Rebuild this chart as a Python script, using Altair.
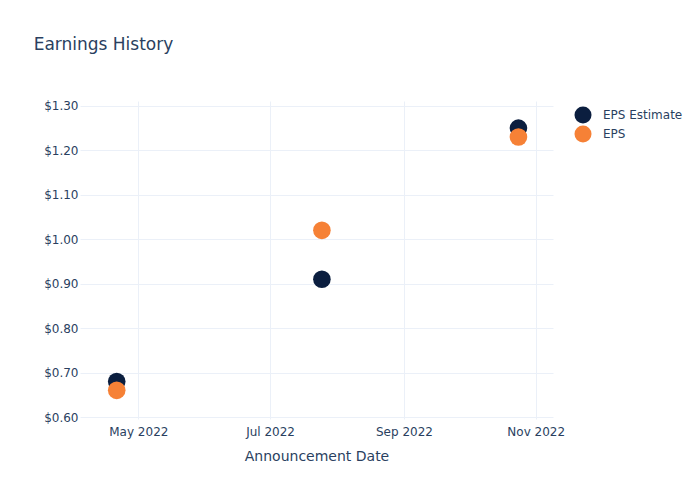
import altair as alt
import pandas as pd

dates = ["2022-04-21", "2022-07-25", "2022-10-24"]
eps_estimate = [0.68, 0.91, 1.25]
eps_actual = [0.66, 1.02, 1.23]
series_names = ["EPS Estimate", "EPS"]
series_colors = ["#0b1e3f", "#f68136"]
x_ticks = ["2022-05-01", "2022-07-01", "2022-09-01", "2022-11-01"]
y_ticks = [0.6, 0.7, 0.8, 0.9, 1.0, 1.1, 1.2, 1.3]

rows = []
for d, v in zip(dates, eps_estimate):
    rows.append({"Date": d, "Value": v, "Series": "EPS Estimate"})
for d, v in zip(dates, eps_actual):
    rows.append({"Date": d, "Value": v, "Series": "EPS"})
df = pd.DataFrame(rows)

font = "DejaVu Sans"
text_color = "#2a3f5f"
grid_color = "#ebf0f8"

chart = alt.Chart(df).mark_circle(size=310, opacity=1).encode(
    x=alt.X(
        "Date:T",
        title="Announcement Date",
        scale=alt.Scale(domain=["2022-04-04", "2022-11-09"]),
        axis=alt.Axis(
            values=x_ticks,
            format="%b %Y",
            domain=False,
            ticks=False,
            labelPadding=7,
            labelFontSize=12,
            titleFontSize=14,
            titleFontWeight="normal",
            titlePadding=12,
            gridColor=grid_color,
            labelColor=text_color,
            titleColor=text_color,
        ),
    ),
    y=alt.Y(
        "Value:Q",
        title=None,
        scale=alt.Scale(domain=[0.5955, 1.311], nice=False, zero=False),
        axis=alt.Axis(
            values=y_ticks,
            format="$.2f",
            domain=False,
            ticks=False,
            labelPadding=2,
            labelFontSize=12,
            gridColor=grid_color,
            labelColor=text_color,
        ),
    ),
    color=alt.Color(
        "Series:N",
        scale=alt.Scale(domain=series_names, range=series_colors),
        legend=alt.Legend(
            title=None,
            orient="none",
            legendX=494,
            legendY=5,
            symbolType="circle",
            symbolSize=290,
            symbolStrokeWidth=0,
            labelFontSize=12,
            labelColor=text_color,
            labelOffset=11,
            rowPadding=1,
        ),
    ),
    order=alt.Order("Series:N", sort="descending"),
).properties(
    width=473,
    height=318,
    title=alt.TitleParams(
        "Earnings History",
        anchor="start",
        fontSize=17,
        fontWeight="normal",
        color=text_color,
        dx=-10,
        offset=46,
    ),
    autosize=alt.AutoSizeParams(type="none"),
    padding={"left": 80, "top": 101, "right": 147, "bottom": 81},
).configure(font=font).configure_view(stroke=None)

chart.save("out.html", embed_options={"renderer": "svg", "actions": False})
